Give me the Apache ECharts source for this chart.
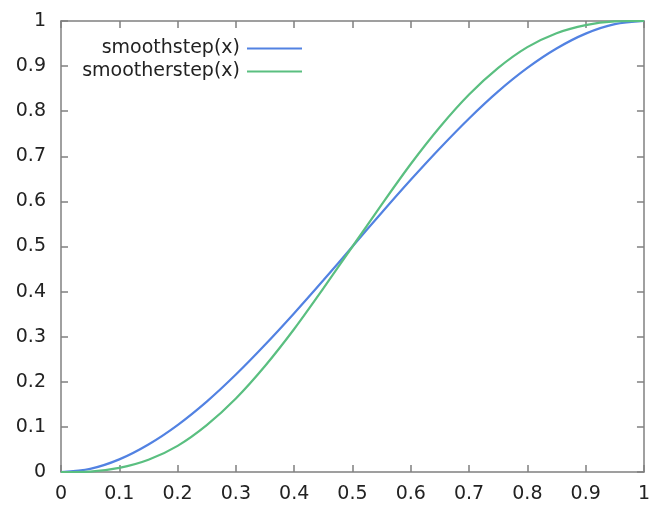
<!DOCTYPE html>
<html><head><meta charset="utf-8">
<script src="https://cdn.jsdelivr.net/npm/echarts@6/dist/echarts.min.js"></script>
<style>html,body{margin:0;padding:0;background:#fff}#c{width:653px;height:505px}</style>
</head><body><div id="c"></div>
<script>
const xValues = [0,0.05,0.1,0.15,0.2,0.25,0.3,0.35,0.4,0.45,0.5,0.55,0.6,0.65,0.7,0.75,0.8,0.85,0.9,0.95,1];
const smoothstep = [0,0.007,0.028,0.061,0.104,0.156,0.216,0.282,0.352,0.425,0.5,0.575,0.648,0.718,0.784,0.844,0.896,0.939,0.972,0.993,1];
const smootherstep = [0,0.001,0.009,0.027,0.058,0.104,0.163,0.235,0.317,0.407,0.5,0.593,0.683,0.765,0.837,0.896,0.942,0.973,0.991,0.999,1];
const seriesNames = ['smoothstep(x)','smootherstep(x)'];
const colors = ['#5282e2','#5abf80'];

const font = 'DejaVu Sans';
const axisColor = '#808080';
const chart = echarts.init(document.getElementById('c'));
const baseAxis = {
  min: 0, max: 1, interval: 0.1,
  axisLine: {show: true, onZero: false, lineStyle: {color: axisColor, width: 1.5}},
  axisTick: {show: true, inside: true, length: 7, lineStyle: {color: axisColor, width: 1.5}},
  splitLine: {show: false}
};
const fmt = v => String(Math.round(v*10)/10);
const labelStyle = {fontFamily: font, fontSize: 19, color: '#222'};
chart.setOption({
  animation: false,
  grid: {left: 61, right: 4, top: 21, bottom: 33, containLabel: false},
  legend: seriesNames.map((n, i) => ({
    data: [n], right: 346, top: 34 + i*23, align: 'right',
    icon: 'rect', itemWidth: 55, itemHeight: 2, itemGap: 0,
    textStyle: {fontFamily: font, fontSize: 19, color: '#222', padding: [0, 2, 0, 0]},
    selectedMode: false
  })),
  xAxis: [
    Object.assign({}, baseAxis, {type: 'value', position: 'bottom',
      axisLabel: Object.assign({margin: 13, formatter: fmt}, labelStyle)}),
    Object.assign({}, baseAxis, {type: 'value', position: 'top', axisLabel: {show: false}})
  ],
  yAxis: [
    Object.assign({}, baseAxis, {type: 'value', position: 'left',
      axisLabel: Object.assign({margin: 15, formatter: fmt}, labelStyle)}),
    Object.assign({}, baseAxis, {type: 'value', position: 'right', axisLabel: {show: false}})
  ],
  series: [smoothstep, smootherstep].map((arr, i) => ({
    name: seriesNames[i], type: 'line', smooth: 0.3, symbol: 'none',
    data: xValues.map((x, j) => [x, arr[j]]),
    lineStyle: {color: colors[i], width: 2.2}, itemStyle: {color: colors[i]}
  }))
});
</script></body></html>
